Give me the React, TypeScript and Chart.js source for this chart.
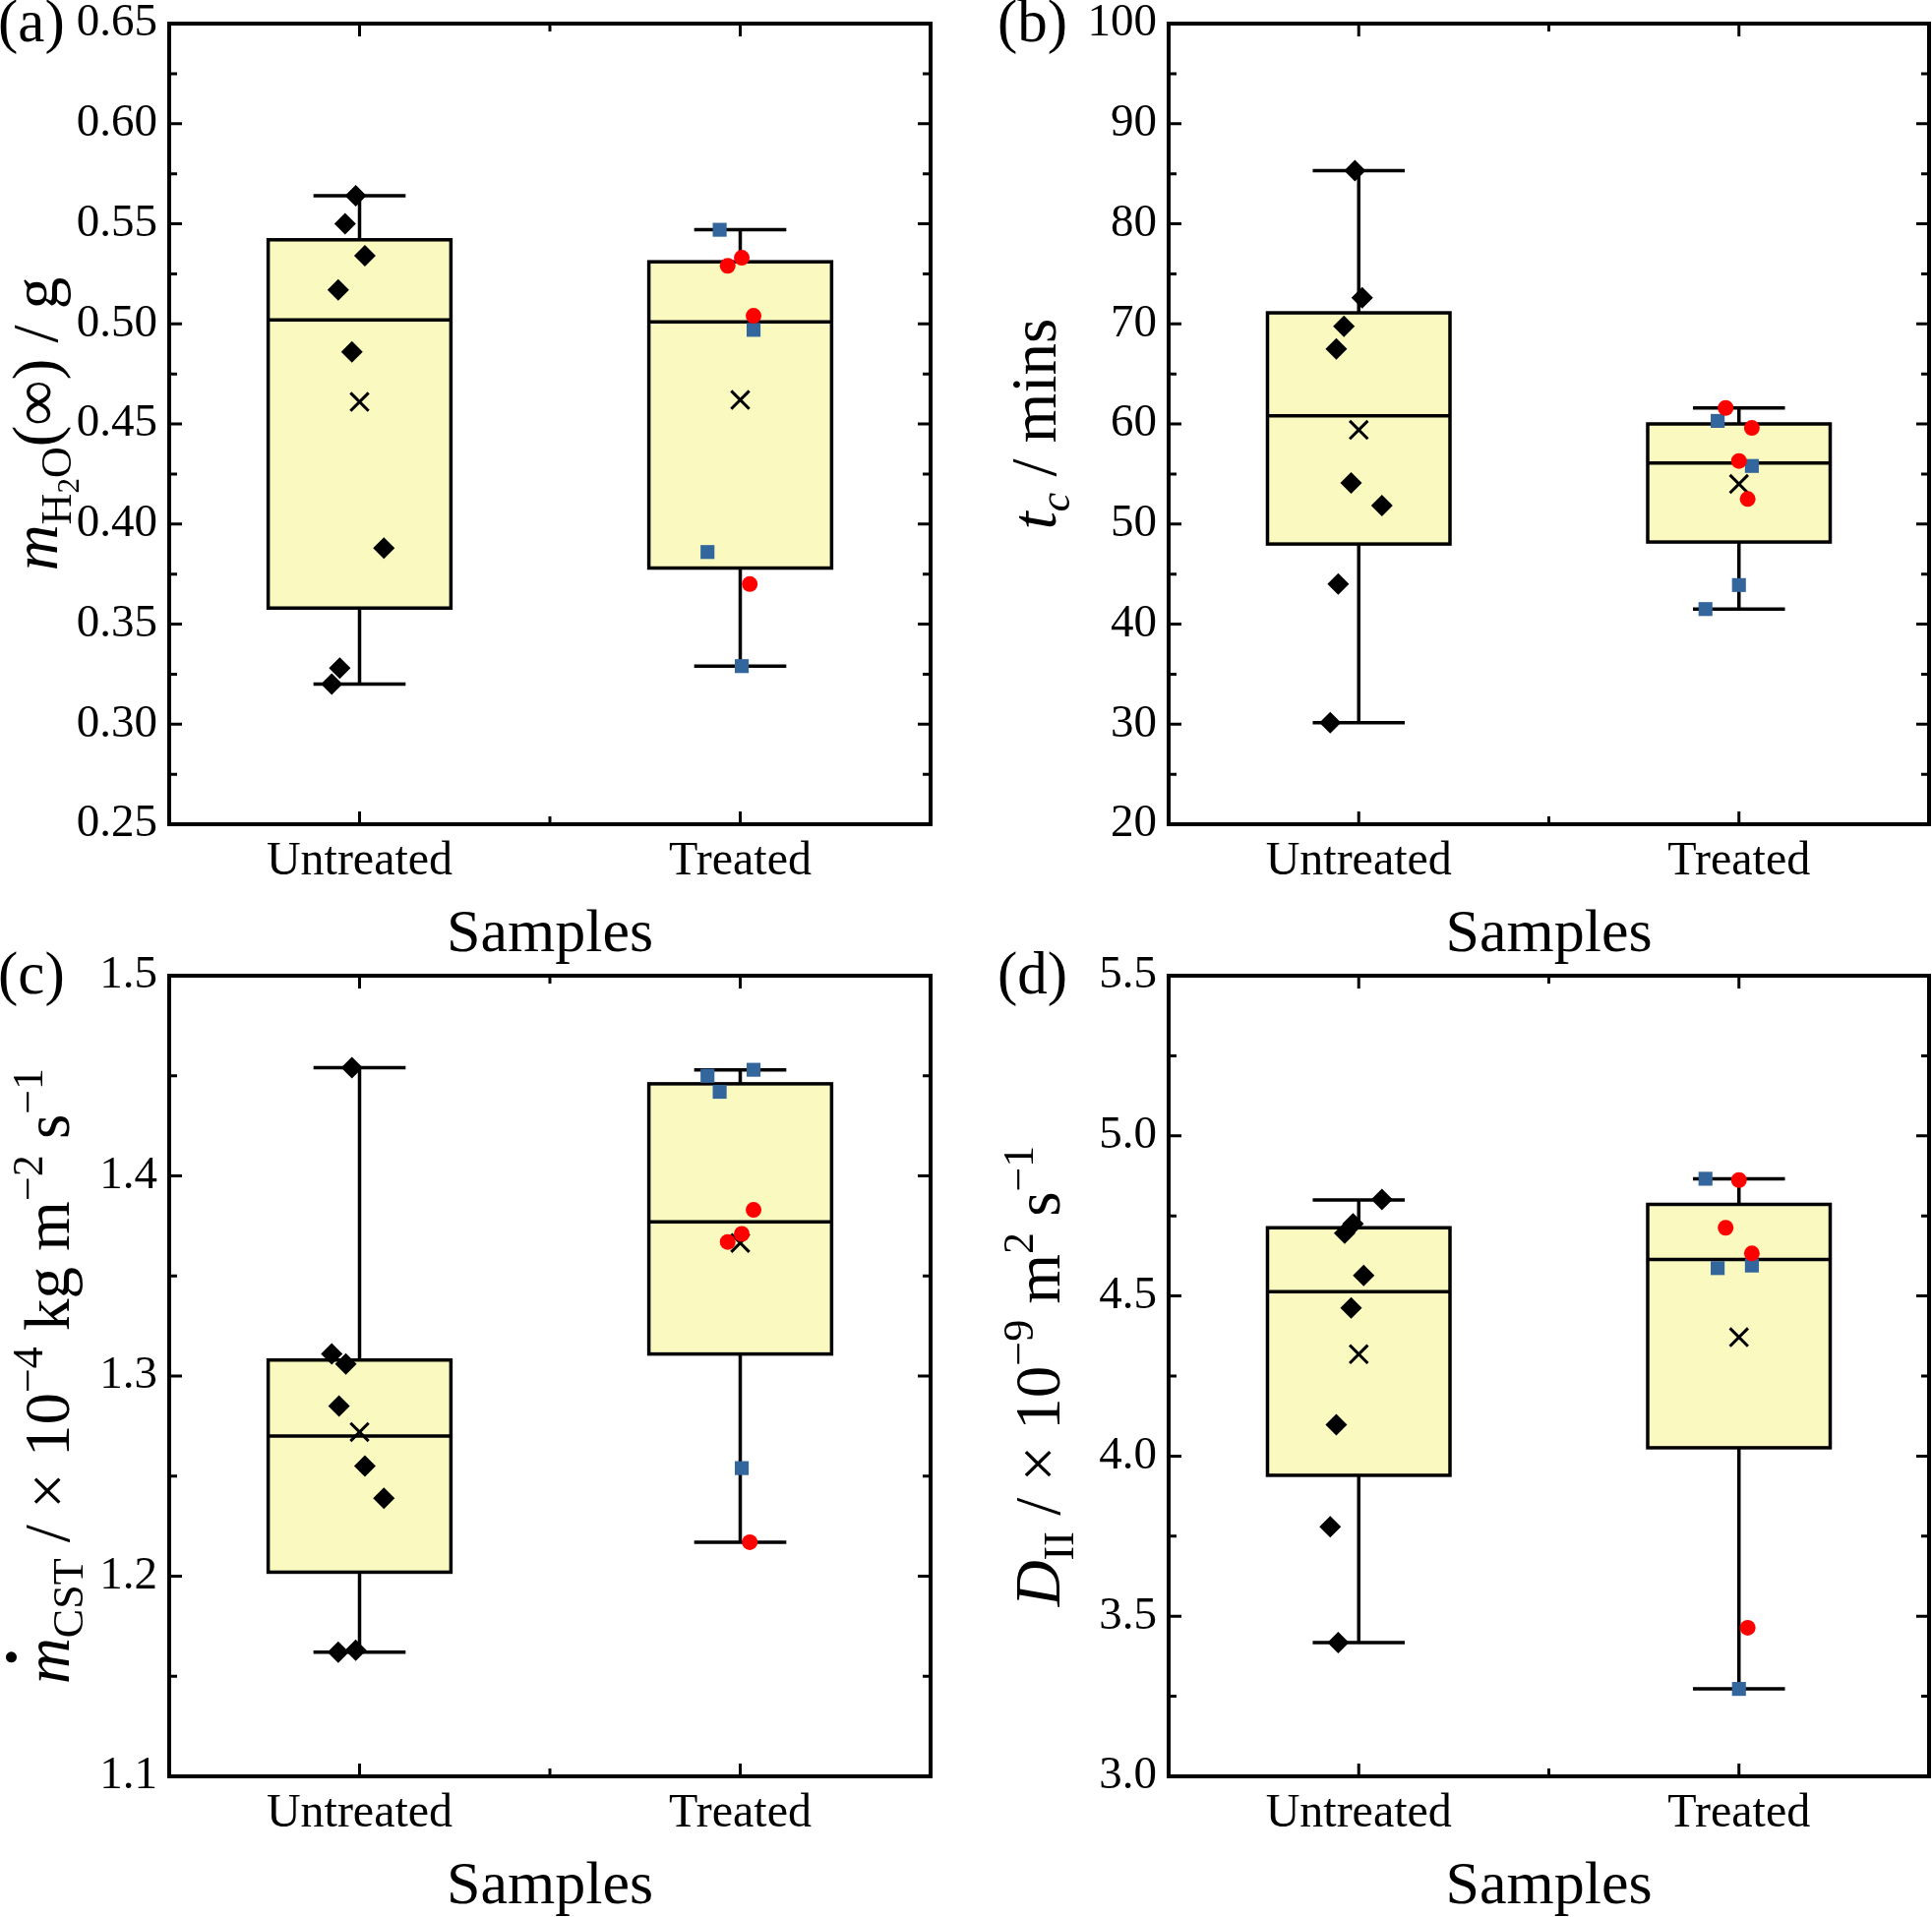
import React, { useEffect, useRef } from 'react';
import { Chart, registerables } from 'chart.js';

Chart.register(...registerables);

const FONT = "'Liberation Serif', 'Times New Roman', serif";

// ---------- shared ----------
const categories = ['Untreated', 'Treated'];
const categoryPositions = [1, 2];
const xMinorTicks = [1.5];

// ---------- panel (a): m_H2O(inf) / g ----------
const aYTicks = [0.25, 0.3, 0.35, 0.4, 0.45, 0.5, 0.55, 0.6, 0.65];
const aWhiskerHigh = [0.564, 0.547];
const aQ3 = [0.542, 0.531];
const aMedian = [0.502, 0.501];
const aQ1 = [0.358, 0.378];
const aWhiskerLow = [0.320, 0.329];
const aMean = [0.461, 0.462];
const aUntreatedX = [0.99, 0.962, 1.014, 0.944, 0.98, 1.064, 0.948, 0.927];
const aUntreatedY = [0.564, 0.550, 0.534, 0.517, 0.486, 0.388, 0.328, 0.320];
const aBlueX = [1.946, 2.035, 1.914, 2.004];
const aBlueY = [0.547, 0.497, 0.386, 0.329];
const aRedX = [1.967, 2.004, 2.035, 2.025];
const aRedY = [0.529, 0.533, 0.504, 0.370];

// ---------- panel (b): t_c / mins ----------
const bYTicks = [20, 30, 40, 50, 60, 70, 80, 90, 100];
const bWhiskerHigh = [85.3, 61.6];
const bQ3 = [71.1, 60.0];
const bMedian = [60.8, 56.1];
const bQ1 = [48.0, 48.2];
const bWhiskerLow = [30.15, 41.5];
const bMean = [59.4, 54.0];
const bUntreatedX = [0.99, 1.009, 0.961, 0.941, 0.98, 1.061, 0.946, 0.925];
const bUntreatedY = [85.3, 72.6, 69.75, 67.5, 54.1, 51.85, 44.0, 30.15];
const bBlueX = [1.944, 2.034, 2.0, 1.912];
const bBlueY = [60.3, 55.8, 43.9, 41.5];
const bRedX = [1.965, 2.034, 2.0, 2.023];
const bRedY = [61.6, 59.6, 56.3, 52.5];

// ---------- panel (c): m_CST ----------
const cYTicks = [1.1, 1.2, 1.3, 1.4, 1.5];
const cWhiskerHigh = [1.454, 1.453];
const cQ3 = [1.308, 1.446];
const cMedian = [1.27, 1.377];
const cQ1 = [1.202, 1.311];
const cWhiskerLow = [1.162, 1.217];
const cMean = [1.272, 1.3665];
const cUntreatedX = [0.98, 0.927, 0.964, 0.946, 1.014, 1.064, 0.944, 0.99];
const cUntreatedY = [1.454, 1.311, 1.306, 1.285, 1.255, 1.239, 1.162, 1.163];
const cBlueX = [1.914, 1.946, 2.035, 2.004];
const cBlueY = [1.45, 1.442, 1.453, 1.254];
const cRedX = [2.035, 2.004, 1.967, 2.025];
const cRedY = [1.383, 1.371, 1.367, 1.217];

// ---------- panel (d): D_II ----------
const dYTicks = [3.0, 3.5, 4.0, 4.5, 5.0, 5.5];
const dWhiskerHigh = [4.8, 4.866];
const dQ3 = [4.713, 4.786];
const dMedian = [4.513, 4.614];
const dQ1 = [3.94, 4.026];
const dWhiskerLow = [3.418, 3.273];
const dMean = [4.318, 4.371];
const dUntreatedX = [1.061, 0.985, 0.963, 1.013, 0.98, 0.941, 0.925, 0.946];
const dUntreatedY = [4.801, 4.725, 4.696, 4.564, 4.463, 4.098, 3.779, 3.418];
const dBlueX = [1.912, 1.944, 2.034, 2.0];
const dBlueY = [4.866, 4.587, 4.595, 3.273];
const dRedX = [2.0, 1.965, 2.034, 2.023];
const dRedY = [4.862, 4.713, 4.633, 3.464];

// ---------- styles ----------
const BOX_FILL = 'rgb(250,250,192)';
const BLUE = '#33669C';
const RED = '#FF0000';
const BOX_HALF = 0.24;
const CAP_HALF = 0.121;

type Seg = { t: string; it?: boolean; sc?: number; dy?: number; dot?: boolean };

type PanelCfg = {
  letter: string;
  canvas: { x: number; y: number; w: number; h: number };
  plot: { l: number; t: number; r: number; b: number };
  yMin: number;
  yMax: number;
  yTicks: number[];
  decimals: number;
  whiskerHigh: number[];
  q3: number[];
  median: number[];
  q1: number[];
  whiskerLow: number[];
  mean: number[];
  ux: number[];
  uy: number[];
  bx: number[];
  by: number[];
  rx: number[];
  ry: number[];
  title: Seg[];
  titleOffset: number;
};

const panels: PanelCfg[] = [
  {
    letter: '(a)',
    canvas: { x: 0, y: 0, w: 990, h: 990 },
    plot: { l: 172, t: 24, r: 946, b: 838 },
    yMin: 0.25, yMax: 0.65, yTicks: aYTicks, decimals: 2,
    whiskerHigh: aWhiskerHigh, q3: aQ3, median: aMedian, q1: aQ1, whiskerLow: aWhiskerLow, mean: aMean,
    ux: aUntreatedX, uy: aUntreatedY, bx: aBlueX, by: aBlueY, rx: aRedX, ry: aRedY,
    title: [
      { t: 'm', it: true },
      { t: 'H', sc: 0.68, dy: 0.22 },
      { t: '2', sc: 0.47, dy: 0.34 },
      { t: 'O', sc: 0.68, dy: 0.22 },
      { t: '(∞) / g' },
    ],
    titleOffset: 114,
  },
  {
    letter: '(b)',
    canvas: { x: 990, y: 0, w: 974, h: 990 },
    plot: { l: 1188, t: 24, r: 1961, b: 838 },
    yMin: 20, yMax: 100, yTicks: bYTicks, decimals: 0,
    whiskerHigh: bWhiskerHigh, q3: bQ3, median: bMedian, q1: bQ1, whiskerLow: bWhiskerLow, mean: bMean,
    ux: bUntreatedX, uy: bUntreatedY, bx: bBlueX, by: bBlueY, rx: bRedX, ry: bRedY,
    title: [
      { t: 't', it: true },
      { t: 'c', it: true, sc: 0.68, dy: 0.22 },
      { t: ' / mins' },
    ],
    titleOffset: 115,
  },
  {
    letter: '(c)',
    canvas: { x: 0, y: 960, w: 990, h: 989 },
    plot: { l: 172, t: 992, r: 946, b: 1806 },
    yMin: 1.1, yMax: 1.5, yTicks: cYTicks, decimals: 1,
    whiskerHigh: cWhiskerHigh, q3: cQ3, median: cMedian, q1: cQ1, whiskerLow: cWhiskerLow, mean: cMean,
    ux: cUntreatedX, uy: cUntreatedY, bx: cBlueX, by: cBlueY, rx: cRedX, ry: cRedY,
    title: [
      { t: 'm', it: true, dot: true },
      { t: 'CST', sc: 0.68, dy: 0.22 },
      { t: ' / × 10' },
      { t: '−4', sc: 0.68, dy: -0.42 },
      { t: ' kg m' },
      { t: '−2', sc: 0.68, dy: -0.42 },
      { t: ' s' },
      { t: '−1', sc: 0.68, dy: -0.42 },
    ],
    titleOffset: 102,
  },
  {
    letter: '(d)',
    canvas: { x: 990, y: 960, w: 974, h: 989 },
    plot: { l: 1188, t: 992, r: 1961, b: 1806 },
    yMin: 3.0, yMax: 5.5, yTicks: dYTicks, decimals: 1,
    whiskerHigh: dWhiskerHigh, q3: dQ3, median: dMedian, q1: dQ1, whiskerLow: dWhiskerLow, mean: dMean,
    ux: dUntreatedX, uy: dUntreatedY, bx: dBlueX, by: dBlueY, rx: dRedX, ry: dRedY,
    title: [
      { t: 'D', it: true },
      { t: 'II', sc: 0.68, dy: 0.22 },
      { t: ' / × 10' },
      { t: '−9', sc: 0.68, dy: -0.42 },
      { t: ' m' },
      { t: '2', sc: 0.68, dy: -0.42 },
      { t: ' s' },
      { t: '−1', sc: 0.68, dy: -0.42 },
    ],
    titleOffset: 111,
  },
];

function drawRich(ctx: CanvasRenderingContext2D, segs: Seg[], size: number, bx: number, cy: number) {
  ctx.save();
  ctx.translate(bx, cy);
  ctx.rotate(-Math.PI / 2);
  ctx.textAlign = 'left';
  ctx.textBaseline = 'alphabetic';
  ctx.fillStyle = '#000';
  const fontOf = (s: Seg) => `${s.it ? 'italic ' : ''}${Math.round(size * (s.sc ?? 1))}px ${FONT}`;
  let total = 0;
  const widths = segs.map((s) => {
    ctx.font = fontOf(s);
    const w = ctx.measureText(s.t).width;
    total += w;
    return w;
  });
  let x = -total / 2;
  segs.forEach((s, i) => {
    ctx.font = fontOf(s);
    ctx.fillText(s.t, x, (s.dy ?? 0) * size);
    if (s.dot) {
      ctx.beginPath();
      ctx.arc(x + widths[i] * 0.58, -0.9 * size, 0.085 * size, 0, Math.PI * 2);
      ctx.fill();
    }
    x += widths[i];
  });
  ctx.restore();
}

function midpoints(vals: number[]) {
  const out: number[] = [];
  for (let i = 0; i < vals.length - 1; i++) out.push((vals[i] + vals[i + 1]) / 2);
  return out;
}

function makePlugin(cfg: PanelCfg) {
  return {
    id: 'panelDecor',
    beforeDatasetsDraw(chart: any) {
      const ctx: CanvasRenderingContext2D = chart.ctx;
      const xs = chart.scales.x;
      const ys = chart.scales.y;
      ctx.save();
      ctx.strokeStyle = '#000';
      ctx.lineWidth = 3.5;
      for (let i = 0; i < categoryPositions.length; i++) {
        const c = categoryPositions[i];
        const px = xs.getPixelForValue(c);
        const bl = xs.getPixelForValue(c - BOX_HALF);
        const br = xs.getPixelForValue(c + BOX_HALF);
        const cl = xs.getPixelForValue(c - CAP_HALF);
        const cr = xs.getPixelForValue(c + CAP_HALF);
        const yHi = ys.getPixelForValue(cfg.whiskerHigh[i]);
        const yQ3 = ys.getPixelForValue(cfg.q3[i]);
        const yMed = ys.getPixelForValue(cfg.median[i]);
        const yQ1 = ys.getPixelForValue(cfg.q1[i]);
        const yLo = ys.getPixelForValue(cfg.whiskerLow[i]);
        ctx.beginPath();
        ctx.moveTo(px, yQ3);
        ctx.lineTo(px, yHi);
        ctx.moveTo(cl, yHi);
        ctx.lineTo(cr, yHi);
        ctx.moveTo(px, yQ1);
        ctx.lineTo(px, yLo);
        ctx.moveTo(cl, yLo);
        ctx.lineTo(cr, yLo);
        ctx.stroke();
        ctx.fillStyle = BOX_FILL;
        ctx.fillRect(bl, yQ3, br - bl, yQ1 - yQ3);
        ctx.strokeRect(bl, yQ3, br - bl, yQ1 - yQ3);
        ctx.beginPath();
        ctx.moveTo(bl, yMed);
        ctx.lineTo(br, yMed);
        ctx.stroke();
      }
      ctx.restore();
    },
    afterDatasetsDraw(chart: any) {
      const ctx: CanvasRenderingContext2D = chart.ctx;
      const { left, right, top, bottom } = chart.chartArea;
      const xs = chart.scales.x;
      const ys = chart.scales.y;
      const MAJ = 13;
      const MIN = 8;
      ctx.save();
      ctx.strokeStyle = '#000';
      ctx.lineWidth = 3;
      ctx.beginPath();
      const yTick = (v: number, len: number) => {
        const py = ys.getPixelForValue(v);
        ctx.moveTo(left, py);
        ctx.lineTo(left + len, py);
        ctx.moveTo(right, py);
        ctx.lineTo(right - len, py);
      };
      const xTick = (v: number, len: number) => {
        const px = xs.getPixelForValue(v);
        ctx.moveTo(px, bottom);
        ctx.lineTo(px, bottom - len);
        ctx.moveTo(px, top);
        ctx.lineTo(px, top + len);
      };
      cfg.yTicks.forEach((v) => yTick(v, MAJ));
      midpoints(cfg.yTicks).forEach((v) => yTick(v, MIN));
      categoryPositions.forEach((v) => xTick(v, MAJ));
      xMinorTicks.forEach((v) => xTick(v, MIN));
      ctx.stroke();
      ctx.lineWidth = 4;
      ctx.strokeRect(left, top, right - left, bottom - top);
      ctx.restore();
    },
    afterDraw(chart: any) {
      const ctx: CanvasRenderingContext2D = chart.ctx;
      const { left, right, top, bottom } = chart.chartArea;
      ctx.save();
      ctx.fillStyle = '#000';
      ctx.textBaseline = 'alphabetic';
      ctx.textAlign = 'left';
      ctx.font = `61px ${FONT}`;
      ctx.fillText(cfg.letter, left - 174, top + 18);
      ctx.textAlign = 'center';
      ctx.font = `62px ${FONT}`;
      ctx.fillText('Samples', (left + right) / 2, bottom + 129);
      ctx.restore();
      drawRich(ctx, cfg.title, 65, left - cfg.titleOffset, (top + bottom) / 2);
    },
  };
}

function Panel({ cfg }: { cfg: PanelCfg }) {
  const ref = useRef<HTMLCanvasElement>(null);
  useEffect(() => {
    const { canvas, plot } = cfg;
    const yAxisW = plot.l - canvas.x;
    const padTop = plot.t - canvas.y;
    const padRight = canvas.x + canvas.w - plot.r;
    const xAxisH = canvas.y + canvas.h - plot.b;
    const tickFont = { family: FONT, size: 48 };
    const toPts = (xs: number[], ys: number[]) => xs.map((x, i) => ({ x, y: ys[i] }));
    const chart = new Chart(ref.current as HTMLCanvasElement, {
      type: 'scatter',
      data: {
        datasets: [
          {
            label: 'Treated (red)',
            data: toPts(cfg.rx, cfg.ry),
            pointStyle: 'circle',
            pointRadius: 8,
            backgroundColor: RED,
            borderColor: RED,
            borderWidth: 0,
          },
          {
            label: 'Treated (blue)',
            data: toPts(cfg.bx, cfg.by),
            pointStyle: 'rect',
            pointRadius: 10,
            backgroundColor: BLUE,
            borderColor: BLUE,
            borderWidth: 0,
          },
          {
            label: 'Untreated',
            data: toPts(cfg.ux, cfg.uy),
            pointStyle: 'rectRot',
            pointRadius: 11,
            backgroundColor: '#000',
            borderColor: '#000',
            borderWidth: 0,
          },
          {
            label: 'Mean',
            data: toPts(categoryPositions, cfg.mean),
            pointStyle: 'crossRot',
            pointRadius: 13,
            backgroundColor: '#000',
            borderColor: '#000',
            borderWidth: 3,
          },
        ] as any,
      },
      options: {
        responsive: false,
        maintainAspectRatio: false,
        animation: false,
        devicePixelRatio: 1,
        events: [],
        layout: { autoPadding: false, padding: { left: 0, top: padTop, right: padRight, bottom: 0 } },
        plugins: { legend: { display: false }, tooltip: { enabled: false } },
        scales: {
          x: {
            type: 'linear',
            min: 0.5,
            max: 2.5,
            grid: { display: false, drawTicks: false },
            border: { display: false },
            ticks: {
              font: tickFont,
              color: '#000',
              padding: 10,
              maxRotation: 0,
              autoSkip: false,
              callback: (v: any) => categories[Math.round(Number(v)) - 1] ?? '',
            },
            afterBuildTicks: (s: any) => {
              s.ticks = categoryPositions.map((v) => ({ value: v }));
            },
            afterFit: (s: any) => {
              s.height = xAxisH;
              s.paddingLeft = 0;
              s.paddingRight = 0;
            },
          },
          y: {
            type: 'linear',
            min: cfg.yMin,
            max: cfg.yMax,
            grid: { display: false, drawTicks: false },
            border: { display: false },
            ticks: {
              font: { family: FONT, size: 47 },
              color: '#000',
              padding: 12,
              autoSkip: false,
              callback: (v: any) => Number(v).toFixed(cfg.decimals),
            },
            afterBuildTicks: (s: any) => {
              s.ticks = cfg.yTicks.map((v) => ({ value: v }));
            },
            afterFit: (s: any) => {
              s.width = yAxisW;
              s.paddingTop = 0;
              s.paddingBottom = 0;
            },
          },
        },
      } as any,
      plugins: [makePlugin(cfg)],
    });
    return () => chart.destroy();
  }, [cfg]);
  return (
    <canvas
      ref={ref}
      width={cfg.canvas.w}
      height={cfg.canvas.h}
      style={{
        position: 'absolute',
        left: cfg.canvas.x,
        top: cfg.canvas.y,
        width: cfg.canvas.w,
        height: cfg.canvas.h,
      }}
    />
  );
}

export default function App() {
  return (
    <div
      style={{
        position: 'absolute',
        left: 0,
        top: 0,
        width: 1964,
        height: 1949,
        background: '#fff',
        overflow: 'hidden',
      }}
    >
      {panels.map((p) => (
        <Panel key={p.letter} cfg={p} />
      ))}
    </div>
  );
}
